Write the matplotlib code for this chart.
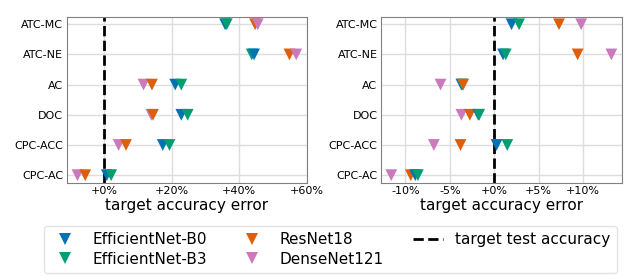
import matplotlib
matplotlib.use("Agg")
import matplotlib.pyplot as plt
from matplotlib.ticker import FuncFormatter
from matplotlib.lines import Line2D

methods = ["ATC-MC", "ATC-NE", "AC", "DOC", "CPC-ACC", "CPC-AC"]
models = ["EfficientNet-B0", "EfficientNet-B3", "ResNet18", "DenseNet121"]
colors = ["#0173b2", "#029e73", "#de5f0b", "#cc78bc"]

# target accuracy error (%), left panel
left_vals = {
    "EfficientNet-B0": [35.8, 44.4, 21.0, 22.8, 17.3, 0.7],
    "EfficientNet-B3": [36.3, 43.7, 22.8, 24.7, 19.3, 2.0],
    "ResNet18":        [44.7, 54.9, 14.1, 14.4, 6.4, -5.7],
    "DenseNet121":     [45.5, 56.9, 11.6, 13.9, 4.2, -8.0],
}
# right panel
right_vals = {
    "EfficientNet-B0": [1.95, 1.0, -3.7, -1.8, 0.26, -8.9],
    "EfficientNet-B3": [2.8, 1.3, -3.6, -1.7, 1.47, -8.6],
    "ResNet18":        [7.3, 9.4, -3.5, -2.75, -3.8, -9.4],
    "DenseNet121":     [9.8, 13.2, -6.05, -3.7, -6.8, -11.6],
}
left_ticks = [0, 20, 40, 60]
right_ticks = [-10, -5, 0, 5, 10]

fig = plt.figure(figsize=(6.4, 2.76), dpi=100)
axL = fig.add_axes([0.1042, 0.338, 0.376, 0.6015])
axR = fig.add_axes([0.5953, 0.338, 0.3766, 0.6015])

ypos = list(range(len(methods)))[::-1]

def draw(ax, vals, ticks, xlim):
    pts = []
    for mi, m in enumerate(models):
        for yi, v in zip(ypos, vals[m]):
            pts.append((v, yi, colors[mi]))
    pts.sort(key=lambda p: p[0])
    for k, (v, yi, c) in enumerate(pts):
        ax.scatter([v], [yi], marker="v", s=72, color=c, edgecolors="none", zorder=3 + k * 0.01)
    ax.axvline(0, color="black", linestyle="--", linewidth=2, zorder=2.5)
    ax.set_yticks(ypos)
    ax.set_yticklabels(methods)
    ax.set_ylim(-0.25, 5.25)
    ax.set_xticks(ticks)
    ax.xaxis.set_major_formatter(FuncFormatter(lambda x, p: f"{x:+.0f}%"))
    ax.set_xlim(*xlim)
    ax.grid(True, color="#dddddd", linewidth=1)
    ax.set_axisbelow(True)
    ax.tick_params(length=0, labelsize=8, pad=2.5)
    for s in ax.spines.values():
        s.set_color("#808080")
    ax.set_xlabel("target accuracy error", fontsize=11, labelpad=1)

draw(axL, left_vals, left_ticks, (-11.2, 60.2))
draw(axR, right_vals, right_ticks, (-12.76, 14.4))

handles = [Line2D([], [], marker="v", linestyle="none", color=c, markersize=9, markeredgewidth=0) for c in colors]
handles.append(Line2D([], [], color="black", linestyle="--", linewidth=2))
labels = models + ["target test accuracy"]
fig.legend(handles, labels, ncol=3, loc="lower left", bbox_to_anchor=(0.0688, 0.012),
           fontsize=11, frameon=True, edgecolor="#dddddd", handlelength=2,
           columnspacing=1.9, borderaxespad=0, labelspacing=0.3)

fig.savefig("out.png", dpi=100)
